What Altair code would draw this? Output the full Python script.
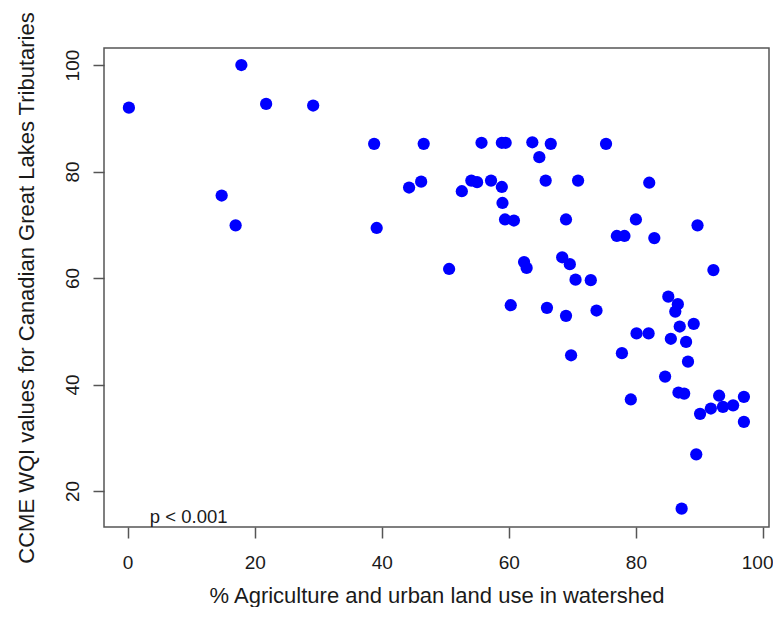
import altair as alt
import pandas as pd

# % agriculture and urban land use in watershed
land_use = [
    0.2, 17.9, 21.8, 29.2, 38.8, 46.6, 14.8, 17.0, 44.3, 46.2,
    39.2, 55.7, 58.9, 59.5, 63.7, 66.6, 64.8, 75.3, 54.1, 55.0,
    57.2, 58.9, 52.6, 59.0, 59.4, 60.8, 65.8, 70.9, 82.1, 69.0,
    80.0, 89.7, 77.0, 78.2, 82.9, 50.6, 62.4, 62.8, 68.4, 69.6,
    70.5, 72.9, 92.2, 60.3, 66.0, 69.0, 73.8, 85.1, 86.6, 86.2,
    86.9, 89.1, 80.1, 82.0, 85.5, 87.9, 69.8, 77.8, 88.2, 84.6,
    86.7, 87.6, 79.2, 93.1, 97.0, 90.1, 91.8, 93.7, 95.3, 97.0,
    89.5, 87.2,
]
# CCME WQI values
wqi = [
    92.0, 100.0, 92.7, 92.4, 85.2, 85.2, 75.5, 69.9, 77.0, 78.1,
    69.4, 85.4, 85.4, 85.4, 85.5, 85.2, 82.7, 85.2, 78.3, 78.0,
    78.3, 77.1, 76.3, 74.1, 71.0, 70.8, 78.3, 78.3, 77.9, 71.0,
    71.0, 69.9, 67.9, 67.9, 67.5, 61.7, 63.0, 61.9, 63.9, 62.6,
    59.7, 59.6, 61.5, 54.9, 54.4, 52.9, 53.9, 56.5, 55.1, 53.7,
    50.9, 51.4, 49.6, 49.6, 48.6, 48.0, 45.5, 45.9, 44.3, 41.5,
    38.5, 38.3, 37.2, 37.9, 37.7, 34.5, 35.5, 35.8, 36.1, 33.0,
    26.9, 16.7,
]
x_ticks = [0, 20, 40, 60, 80, 100]
y_ticks = [20, 40, 60, 80, 100]
note_text = ["p < 0.001"]
note_x = [3.5]
note_y = [14.0]

df = pd.DataFrame({"land": land_use, "wqi": wqi})
note_df = pd.DataFrame({"x": note_x, "y": note_y, "t": note_text})

FONT = "Liberation Sans"
W, H = 665, 479

xscale = alt.Scale(domain=[-3.72, 100.95], nice=False, zero=False)
yscale = alt.Scale(domain=[13.25, 103.2], nice=False, zero=False)

points = alt.Chart(df).mark_circle(size=150, color="#0000ff", opacity=1).encode(
    x=alt.X(
        "land:Q",
        scale=xscale,
        axis=alt.Axis(
            values=x_ticks,
            title="% Agriculture and urban land use in watershed",
            grid=False,
            domain=False,
            tickSize=11,
            tickColor="#555555",
            tickWidth=1.5,
            labelFont=FONT,
            labelFontSize=19,
            labelColor="#1a1a1a",
            labelBaseline="alphabetic",
            labelPadding=30,
            labelOverlap=False,
            labelBound=False,
            labelFlush=7,
            labelFlushOffset=10,
            titleFont=FONT,
            titleFontSize=22,
            titleFontWeight="normal",
            titleColor="#1a1a1a",
            titleBaseline="alphabetic",
            titleX=W / 2,
            titleY=75,
        ),
    ),
    y=alt.Y(
        "wqi:Q",
        scale=yscale,
        axis=alt.Axis(
            values=y_ticks,
            title="CCME WQI values for Canadian Great Lakes Tributaries",
            grid=False,
            domain=False,
            tickSize=11,
            tickColor="#555555",
            tickWidth=1.5,
            labelFont=FONT,
            labelFontSize=19,
            labelColor="#1a1a1a",
            labelAngle=-90,
            labelAlign="center",
            labelBaseline="alphabetic",
            labelPadding=15,
            titleFont=FONT,
            titleFontSize=22,
            titleFontWeight="normal",
            titleColor="#1a1a1a",
            titleAngle=270,
            titleAlign="center",
            titleBaseline="alphabetic",
            titleX=-71,
            titleY=H / 2,
        ),
    ),
)

note = alt.Chart(note_df).mark_text(
    align="left", baseline="alphabetic", font=FONT, fontSize=18.5, color="#1a1a1a"
).encode(
    x=alt.X("x:Q", scale=xscale),
    y=alt.Y("y:Q", scale=yscale),
    text="t:N",
)

chart = (
    alt.layer(points, note)
    .properties(
        width=W,
        height=H,
        autosize=alt.AutoSizeParams(type="none"),
        padding={"left": 96, "top": 40, "right": 4, "bottom": 80},
        background="white",
    )
    .configure_view(stroke="#555555", strokeWidth=1.5)
)

chart.save("out.html", embed_options={"renderer": "svg", "actions": False})
